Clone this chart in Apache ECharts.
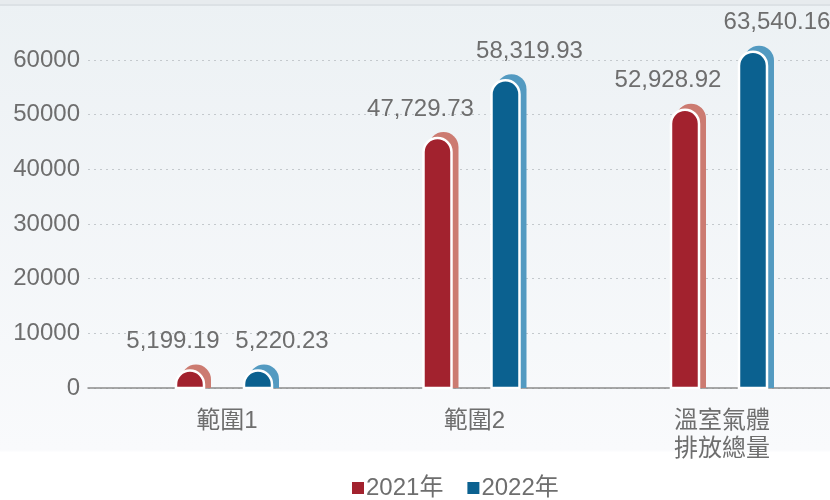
<!DOCTYPE html>
<html>
<head>
<meta charset="utf-8">
<script src="https://cdn.jsdelivr.net/npm/echarts@6/dist/echarts.min.js"></script>
<style>
  html, body { margin: 0; padding: 0; background: #fff; }
  #main { width: 830px; height: 500px; }
</style>
</head>
<body>
<div id="main"></div>
<script>
const categories = ['範圍1', '範圍2', '溫室氣體\n排放總量']
const years = ['2021年', '2022年']
const values2021 = [5199.19, 47729.73, 52928.92]
const values2022 = [5220.23, 58319.93, 63540.16]
const yTicks = [0, 10000, 20000, 30000, 40000, 50000, 60000]

const FONT = '"Liberation Sans", "Noto Sans CJK TC", sans-serif'
const TEXT = '#6e6e6e'

// front / back colours per year
const colors = [
  { front: '#a2222e', back: '#cc7b71' },
  { front: '#0b6190', back: '#539ac1' }
]

const fmt = v => v.toLocaleString('en-US', { minimumFractionDigits: 2, maximumFractionDigits: 2 })

function makeRender(idx) {
  const c = colors[idx]
  const groupOff = idx === 0 ? -34 : 34
  const labelOff = idx === 0 ? -17 : 24
  return function (params, api) {
    const cat = api.value(0)
    const v = api.value(1)
    const top = api.coord([cat, v])
    const base = api.coord([cat, 0])
    const gx = top[0] + groupOff
    const backC = gx + 3, frontC = gx - 3
    const bw = 30, fw = 28
    const backTop = top[1] + 5
    return {
      type: 'group',
      children: [
        {
          type: 'rect',
          shape: { x: backC - bw / 2, y: backTop, width: bw, height: base[1] - backTop, r: [bw / 2, bw / 2, 0, 0] },
          style: { fill: c.back }
        },
        {
          type: 'rect',
          shape: { x: frontC - fw / 2, y: backTop + 6, width: fw, height: base[1] - backTop - 6, r: [fw / 2, fw / 2, 0, 0] },
          style: { fill: c.front, stroke: '#ffffff', lineWidth: 2.5 }
        },
        {
          type: 'text',
          x: frontC + labelOff,
          y: backTop - 11,
          style: { text: fmt(v), fill: TEXT, font: '24px ' + FONT, align: 'center', verticalAlign: 'bottom' }
        }
      ]
    }
  }
}

const chart = echarts.init(document.getElementById('main'), null, { renderer: 'canvas' })

chart.setOption({
  backgroundColor: {
    type: 'linear', x: 0, y: 0, x2: 0, y2: 1,
    colorStops: [
      { offset: 0, color: '#ecf1f4' },
      { offset: 0.9, color: '#f9fafc' },
      { offset: 0.905, color: '#ffffff' },
      { offset: 1, color: '#ffffff' }
    ]
  },
  graphic: [
    { type: 'rect', left: 0, top: 0, shape: { width: 830, height: 4 }, style: { fill: '#e7ebee' } },
    { type: 'rect', left: 0, top: 4, shape: { width: 830, height: 2 }, style: { fill: '#dce1e5' } }
  ],
  textStyle: { fontFamily: FONT },
  grid: { left: 88, right: 0, top: 60, bottom: 112 },
  legend: {
    data: years.map(n => ({ name: n, icon: 'rect' })),
    left: 347, top: 471,
    itemWidth: 12, itemHeight: 12, itemGap: 24,
    textStyle: { color: TEXT, fontSize: 24, fontFamily: FONT, padding: [0, 0, 0, -3] }
  },
  xAxis: {
    // value axis so the category bands can sit 15px right of the axis start, as in the picture
    type: 'value',
    min: -0.5616, max: 2.4364,
    axisLine: { lineStyle: { color: '#8c8c8c', width: 1.5 } },
    axisTick: { show: false },
    splitLine: { show: false },
    axisLabel: {
      customValues: [0, 1, 2],
      formatter: v => categories[Math.round(v)] || '',
      color: TEXT, fontSize: 24, lineHeight: 28, margin: 19, fontFamily: FONT
    }
  },
  yAxis: {
    type: 'value',
    min: yTicks[0], max: yTicks[yTicks.length - 1], interval: 10000,
    axisLine: { show: false },
    axisTick: { show: false },
    axisLabel: { color: TEXT, fontSize: 24, margin: 8, fontFamily: FONT, formatter: v => String(v) },
    splitLine: { lineStyle: { color: '#c4c9cd', type: [2, 4], width: 1 } }
  },
  series: [
    {
      name: years[0], type: 'custom', clip: false,
      itemStyle: { color: colors[0].front },
      encode: { x: 0, y: 1 },
      data: values2021.map((v, i) => [i, v]),
      renderItem: makeRender(0)
    },
    {
      name: years[1], type: 'custom', clip: false,
      itemStyle: { color: colors[1].front },
      encode: { x: 0, y: 1 },
      data: values2022.map((v, i) => [i, v]),
      renderItem: makeRender(1)
    }
  ]
})
</script>
</body>
</html>
